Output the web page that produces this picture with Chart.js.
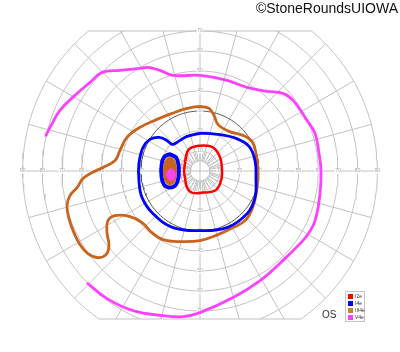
<!DOCTYPE html>
<html>
<head>
<meta charset="utf-8">
<script src="https://cdn.jsdelivr.net/npm/chart.js@4.4.1/dist/chart.umd.min.js"></script>
<style>
html, body { margin: 0; padding: 0; background: #fff; }
#wrap { position: relative; width: 400px; height: 352px; overflow: hidden; font-family: "Liberation Sans", Arial, sans-serif; }
#field { position: absolute; left: 0; top: 0; }
#credit { position: absolute; right: 2px; top: 1px; font-size: 14px; line-height: 14px; color: #111; white-space: nowrap; }
#eye { position: absolute; left: 322px; top: 310px; font-size: 10px; line-height: 10px; color: #333; }
#legend { position: absolute; left: 345px; top: 291px; width: 18px; height: 29px; border: 1px solid #c4c4c4; background: #fff; }
.item { position: absolute; left: 2px; height: 5px; font-size: 5px; line-height: 5px; color: #333; white-space: nowrap; }
.item i { display: inline-block; width: 5px; height: 5px; vertical-align: top; margin-right: 2px; }
</style>
</head>
<body>
<div id="wrap">
  <canvas id="field" width="400" height="352"></canvas>
  <div id="credit">©StoneRoundsUIOWA</div>
  <div id="eye">OS</div>
  <div id="legend"></div>
</div>
<script>
// Goldmann visual field, left eye (OS)
// x: degrees horizontal (+ right), y: degrees vertical (+ up)

const isopterNames = ['I2e', 'I4e', 'III4e', 'V4e'];
const isopterColors = ['#ff0000', '#0000ff', '#c8641e', '#ff40ff'];
const legendColors = ['#ff0000', '#0000ff', '#cc8040', '#ff40ff'];

// I2e
const i2eX = [-8.1, -6.6, -4.1, 1.5, 6.6, 10.2, 11.2, 10.2, 7.6, 1.5, -4.1, -6.6, -7.6];
const i2eY = [0.3, 9.3, 11.8, 12.8, 11.8, 6.8, -1.3, -6.3, -9.8, -10.8, -10.8, -8.3, -3.3];

// I4e
const i4eX = [0, -6.6, -11.7, -14.2, -16.8, -20.8, -25.4, -28.9, -31.0, -31.0, -29.4, -23.9, -13.7, 0, 13.7, 23.9, 27.9, 28.4, 27.9, 24.9, 18.3, 9.1];
const i4eY = [18.8, 17.3, 14.3, 13.3, 15.3, 16.8, 15.8, 11.8, 3.8, -4.8, -13.3, -21.3, -28.3, -29.8, -28.3, -21.3, -13.3, -3.3, 5.3, 12.3, 16.3, 18.3];

// III4e
const iii4eX = [0, 4.6, 7.1, 9.1, 14.7, 21.8, 26.4, 28.4, 29.4, 28.9, 26.9, 23.4, 16.8, 9.1, 0, -10.2, -18.8, -24.4, -29.4, -35.5, -43.1, -46.7, -47.2, -46.2, -47.7, -51.8, -56.9, -60.9, -64.0, -66.5, -67.5, -66.0, -62.4, -59.4, -54.8, -49.2, -43.1, -40.6, -37.1, -30.5, -21.8, -14.2, -6.6];
const iii4eY = [32.3, 31.3, 27.8, 23.3, 19.8, 17.8, 14.8, 8.8, 0.3, -8.8, -17.8, -24.3, -28.3, -31.8, -34.8, -35.3, -34.3, -30.8, -25.8, -22.8, -22.3, -24.8, -30.8, -37.3, -41.8, -43.3, -41.3, -36.8, -30.8, -23.8, -17.3, -12.3, -8.3, -3.8, -0.8, 1.8, 5.3, 10.3, 16.8, 21.8, 25.8, 28.8, 31.3];

// V4e (open temporally, runs off the chart)
const v4eX = [-78.2, -76.1, -71.1, -63.5, -55.8, -49.7, -40.6, -30.5, -26.4, -20.3, -13.7, 0, 13.7, 23.9, 34.0, 42.1, 47.2, 54.3, 58.4, 60.4, 61.4, 60.9, 58.4, 54.3, 50.8, 43.1, 30.5, 16.8, 0, -8.6, -18.8, -34.0, -47.2, -56.9];
const v4eY = [17.8, 21.8, 30.3, 37.8, 44.3, 49.3, 50.3, 51.3, 51.8, 50.3, 47.8, 47.8, 45.3, 41.8, 39.8, 38.8, 35.3, 25.3, 18.8, 8.8, 0.3, -11.3, -24.8, -32.3, -36.3, -43.8, -54.8, -63.3, -70.8, -72.8, -72.3, -69.8, -63.8, -56.3];

// blind spot islands
const spotI4eX = [-15.2, -12.2, -10.9, -10.9, -12.2, -15.2, -18.3, -19.5, -19.5, -18.3];
const spotI4eY = [8.3, 6.8, 2.8, -2.8, -6.8, -8.3, -6.8, -2.8, 2.8, 6.8];
const spotIii4eX = [-15.2, -12.9, -11.9, -12.9, -15.2, -17.6, -18.6, -17.6];
const spotIii4eY = [7.0, 5.3, 0.3, -5.3, -7.0, -5.3, 0.3, 5.3];
const spotV4eX = [-14.7, -13.0, -13.0, -14.7, -16.5, -16.5];
const spotV4eY = [1.0, -0.3, -3.3, -4.8, -3.3, -0.3];

// grid
const ringDegrees = [5, 10, 20, 30, 40, 50, 60, 70, 80, 90];
const hLabels = [10, 20, 30, 40, 50, 60, 70, 80, 90];
const vLabels = [10, 20, 30, 40, 50, 60, 70];
const spokeStep = 15;
const tickStep = 10;
const topLimit = 70;
const bottomLimit = -74;

function toPoints(xs, ys, closed) {
    const pts = xs.map((x, i) => ({ x: x, y: ys[i] }));
    if (closed) {
        pts.push(pts[0], pts[1]);
    }
    return pts;
}

function arc(r, a0, a1) {
    const pts = [];
    const n = Math.max(2, Math.ceil(Math.abs(a1 - a0) / 2));
    for (let i = 0; i <= n; i++) {
        const a = (a0 + (a1 - a0) * i / n) * Math.PI / 180;
        pts.push({ x: r * Math.cos(a), y: r * Math.sin(a) });
    }
    return pts;
}

function gridLine(pts, color) {
    return {
        data: pts,
        showLine: true,
        borderColor: color || '#c2c2c2',
        borderWidth: 1,
        pointRadius: 0,
        tension: 0,
        fill: false,
        order: 100
    };
}

function buildGrid() {
    const sets = [];
    ringDegrees.forEach(r => {
        const color = r === 30 ? '#555' : '#c2c2c2';
        const up = r > topLimit ? Math.asin(topLimit / r) * 180 / Math.PI : 90;
        const dn = r > -bottomLimit ? Math.asin(-bottomLimit / r) * 180 / Math.PI : 90;
        if (up === 90 && dn === 90) {
            sets.push(gridLine(arc(r, 0, 360), color));
        } else {
            sets.push(gridLine(arc(r, -dn, up), color));
            sets.push(gridLine(arc(r, 180 - up, 180 + dn), color));
        }
    });
    // frame edges top and bottom
    const outer = ringDegrees[ringDegrees.length - 1];
    const wTop = Math.sqrt(outer * outer - topLimit * topLimit);
    const wBot = Math.sqrt(outer * outer - bottomLimit * bottomLimit);
    sets.push(gridLine([{ x: -wTop, y: topLimit }, { x: wTop, y: topLimit }]));
    sets.push(gridLine([{ x: -wBot, y: bottomLimit }, { x: wBot, y: bottomLimit }]));
    // axes through fixation
    sets.push(gridLine([{ x: -outer, y: 0 }, { x: outer, y: 0 }]));
    sets.push(gridLine([{ x: 0, y: bottomLimit }, { x: 0, y: topLimit }]));
    // meridians
    for (let a = spokeStep; a < 360; a += spokeStep) {
        if (a % 90 === 0) continue;
        const rad = a * Math.PI / 180;
        const s = Math.sin(rad);
        let rEnd = outer;
        if (s > 0) rEnd = Math.min(outer, topLimit / s);
        if (s < 0) rEnd = Math.min(outer, -bottomLimit / -s);
        sets.push(gridLine([
            { x: 5 * Math.cos(rad), y: 5 * s },
            { x: rEnd * Math.cos(rad), y: rEnd * s }
        ]));
    }
    // short ticks between 5 and 10
    for (let a = 0; a < 360; a += tickStep) {
        const rad = a * Math.PI / 180;
        sets.push(gridLine([
            { x: 5 * Math.cos(rad), y: 5 * Math.sin(rad) },
            { x: 10 * Math.cos(rad), y: 10 * Math.sin(rad) }
        ]));
    }
    return sets;
}

function isopter(pts, color, width, order, fillColor) {
    return {
        data: pts,
        showLine: true,
        borderColor: color,
        borderWidth: width,
        backgroundColor: fillColor || 'transparent',
        fill: fillColor ? 'shape' : false,
        pointRadius: 0,
        tension: 0.4,
        borderJoinStyle: 'round',
        borderCapStyle: 'round',
        order: order
    };
}

const isopterSets = [
    isopter(toPoints(spotV4eX, spotV4eY, true), isopterColors[3], 1, 0, isopterColors[3]),
    isopter(toPoints(spotIii4eX, spotIii4eY, true), isopterColors[2], 1, 1, isopterColors[2]),
    isopter(toPoints(spotI4eX, spotI4eY, true), isopterColors[1], 4, 2),
    isopter(toPoints(i2eX, i2eY, true), isopterColors[0], 2.5, 3),
    isopter(toPoints(i4eX, i4eY, true), isopterColors[1], 2.8, 4),
    isopter(toPoints(iii4eX, iii4eY, true), isopterColors[2], 2.8, 5),
    isopter(toPoints(v4eX, v4eY, false), isopterColors[3], 2.8, 6)
];
const gridSets = buildGrid();
const firstGridIndex = isopterSets.length;

// degree labels, drawn once the grid is done and before the isopters
const axisLabels = {
    id: 'axisLabels',
    afterDatasetDraw(chart, args) {
        if (args.index !== firstGridIndex) return;
        const ctx = chart.ctx;
        const xs = chart.scales.x;
        const ys = chart.scales.y;
        ctx.save();
        ctx.font = '5px "Liberation Sans", Arial, sans-serif';
        ctx.textAlign = 'center';
        ctx.textBaseline = 'middle';
        const put = (x, y, txt) => {
            const px = xs.getPixelForValue(x);
            const py = ys.getPixelForValue(y);
            const w = ctx.measureText(txt).width;
            ctx.fillStyle = '#fff';
            ctx.fillRect(px - w / 2 - 0.5, py - 2.5, w + 1, 5);
            ctx.fillStyle = '#a0a0a0';
            ctx.fillText(txt, px, py);
        };
        hLabels.forEach(v => { put(v, 0, String(v)); put(-v, 0, String(v)); });
        vLabels.forEach(v => { put(0, v, String(v)); put(0, -v, String(v)); });
        ctx.restore();
    }
};

new Chart(document.getElementById('field'), {
    type: 'scatter',
    data: { datasets: isopterSets.concat(gridSets) },
    options: {
        responsive: false,
        animation: false,
        layout: { padding: 0 },
        plugins: {
            legend: { display: false },
            tooltip: { enabled: false }
        },
        scales: {
            x: { type: 'linear', min: -101.5, max: 101.5, display: false },
            y: { type: 'linear', min: -90.5, max: 85.5, display: false }
        }
    },
    plugins: [axisLabels]
});

// legend box
const legend = document.getElementById('legend');
isopterNames.forEach((name, i) => {
    const row = document.createElement('div');
    row.className = 'item';
    row.style.top = (2 + i * 7) + 'px';
    row.innerHTML = '<i style="background:' + legendColors[i] + '"></i>' + name;
    legend.appendChild(row);
});
</script>
</body>
</html>
